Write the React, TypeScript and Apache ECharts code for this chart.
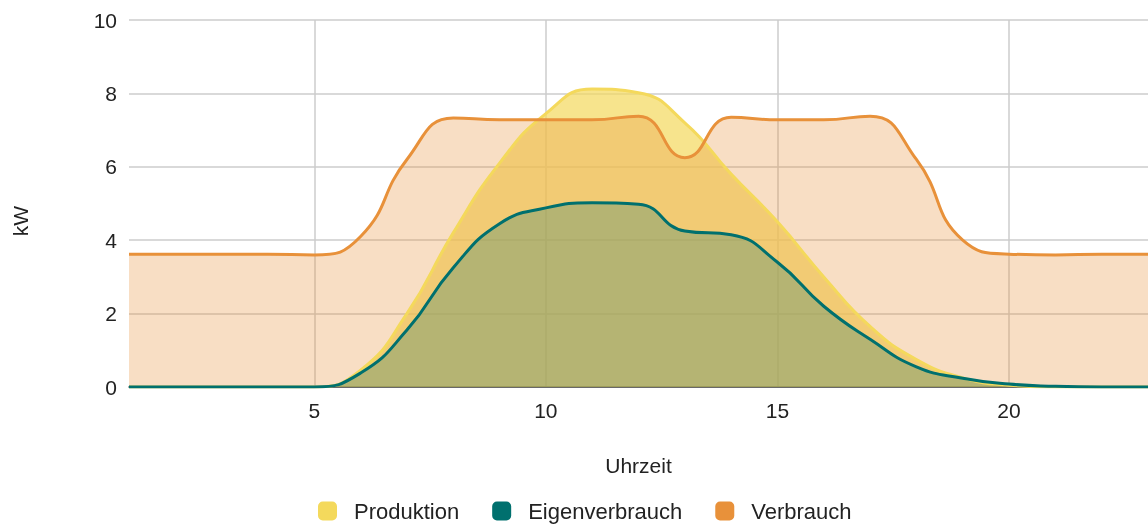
import React, { useEffect, useRef } from "react";
import * as echarts from "echarts";

const hours = [1, 2, 3, 4, 5, 6, 7, 8, 9, 10, 11, 12, 13, 14, 15, 16, 17, 18, 19, 20, 21, 22, 23];
const produktion = [0, 0, 0, 0, 0, 0.46, 2.0, 4.2, 6.1, 7.45, 8.12, 8.02, 7.2, 5.8, 4.5, 3.0, 1.65, 0.75, 0.25, 0.05, 0, 0, 0];
const eigenverbrauch = [0, 0, 0, 0, 0, 0.38, 1.55, 3.25, 4.45, 4.88, 5.02, 4.98, 4.25, 4.15, 3.4, 2.2, 1.3, 0.55, 0.24, 0.08, 0.02, 0, 0];
const verbrauch = [3.62, 3.62, 3.62, 3.62, 3.6, 4.1, 6.2, 7.33, 7.28, 7.28, 7.28, 7.38, 6.25, 7.35, 7.28, 7.28, 7.38, 6.2, 4.0, 3.62, 3.6, 3.62, 3.62];
const seriesNames = ["Produktion", "Eigenverbrauch", "Verbrauch"];
const xTitle = "Uhrzeit";
const yTitle = "kW";

const FONT = "'Liberation Sans', Arial, sans-serif";
const COL_P = "#F4D95C";
const COL_E = "#00706E";
const COL_V = "#E8913A";

export default function App() {
  const ref = useRef<HTMLDivElement>(null);
  useEffect(() => {
    if (!ref.current) return;
    const chart = echarts.init(ref.current, undefined, { renderer: "svg" });
    const pair = (vals: number[]) => hours.map((h, i) => [h, vals[i]]);
    const mk = (name: string, vals: number[], color: string, op: number) => ({
      name,
      type: "line",
      data: pair(vals),
      smooth: 0.5,
      showSymbol: false,
      symbol: "none",
      lineStyle: { color, width: 3 },
      itemStyle: { color },
      areaStyle: { color, opacity: op },
    });
    chart.setOption({
      animation: false,
      textStyle: { fontFamily: FONT },
      grid: { left: 129, right: 0, top: 20, bottom: 137 },
      legend: {
        data: seriesNames,
        left: 313,
        top: 495,
        icon: "roundRect",
        itemWidth: 19,
        itemHeight: 19,
        itemGap: 33,
        textStyle: { fontSize: 22, color: "#222", fontFamily: FONT, padding: [0, 0, 0, 12] },
      },
      graphic: [
        {
          type: "text",
          x: 20,
          y: 221,
          rotation: Math.PI / 2,
          style: {
            text: yTitle,
            fontSize: 21,
            fontFamily: FONT,
            fill: "#222",
            textAlign: "center",
            textVerticalAlign: "middle",
          },
        },
      ],
      xAxis: {
        type: "value",
        min: 1,
        max: 23,
        splitNumber: 4,
        name: xTitle,
        nameLocation: "middle",
        nameGap: 68,
        nameTextStyle: { fontSize: 21, color: "#222", fontFamily: FONT },
        axisLine: { show: true, lineStyle: { color: "#444", width: 1.5 } },
        axisTick: { show: false },
        axisLabel: {
          fontSize: 21,
          color: "#222",
          margin: 13,
          showMinLabel: false,
          showMaxLabel: false,
        },
        splitLine: {
          show: true,
          showMinLine: false,
          showMaxLine: false,
          lineStyle: { color: "#cccccc", width: 1.5 },
        },
      },
      yAxis: {
        type: "value",
        min: 0,
        max: 10,
        interval: 2,
        axisLine: { show: false },
        axisTick: { show: false },
        axisLabel: { fontSize: 21, color: "#222", margin: 12 },
        splitLine: { show: true, lineStyle: { color: "#cccccc", width: 1.5 } },
      },
      series: [
        mk("Produktion", produktion, COL_P, 0.7),
        mk("Verbrauch", verbrauch, COL_V, 0.3),
        mk("Eigenverbrauch", eigenverbrauch, COL_E, 0.25),
      ],
    });
    return () => chart.dispose();
  }, []);
  return (
    <div
      ref={ref}
      style={{ position: "fixed", left: 0, top: 0, width: 1148, height: 524 }}
    />
  );
}
